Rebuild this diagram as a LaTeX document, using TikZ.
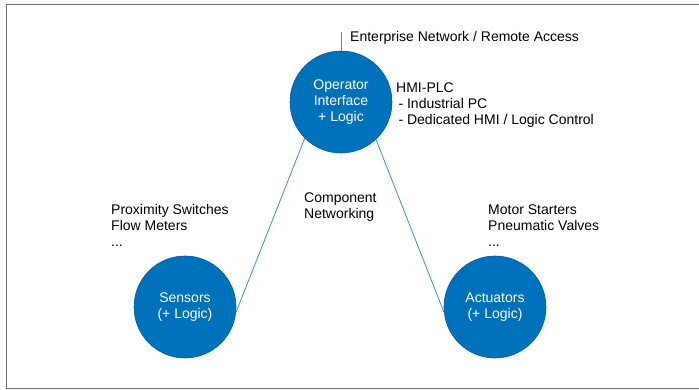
\documentclass[tikz,border=0pt]{standalone}
\usepackage{fontspec}
\setmainfont{Liberation Sans}
\usepackage{tikz}

\definecolor{unitblue}{RGB}{0,114,187}
\definecolor{unitedge}{RGB}{0,92,160}
\definecolor{linkblue}{RGB}{52,146,214}

\begin{document}
\begin{tikzpicture}[x=1pt, y=-1pt,
	unit/.style={circle, draw=unitedge, line width=0.6pt, fill=unitblue, text=white, minimum size=102pt, inner sep=0pt, align=center, font=\fontsize{14}{16}\selectfont},
	link/.style={draw=linkblue, line width=0.8pt},
	note/.style={anchor=north west, inner sep=0pt, align=left, font=\fontsize{14}{16}\selectfont}]
	\useasboundingbox (0,0) rectangle (699,390);

	% Frame
	\draw[color=gray!85!black, line width=1pt] (699,4.5) -- (6.5,4.5) -- (6.5,388) -- (699,388);

	% Units
	\node[unit] (op) at (341,102) {Operator\\Interface\\+ Logic};
	\node[unit] (sens) at (185,307) {Sensors\\(+ Logic)};
	\node[unit] (act) at (495,307) {Actuators\\(+ Logic)};
	\coordinate (net) at (341,32);

	% Connections
	\draw[link] (op.north) -- (net);
	\draw[link] (op.225) -- (sens.354);
	\draw[link] (op.313) -- (act.186);

	% Annotations
	\node[note] (ent) at (350,31.5) {Enterprise Network / Remote Access};
	\node[note] (hmi) at (396,82.5) {HMI-PLC\\\,- Industrial PC\\\,- Dedicated HMI / Logic Control};
	\node[note] (comp) at (304,192.5) {Component\\Networking};
	\node[note] (sensx) at (111,204.5) {Proximity Switches\\Flow Meters\\...};
	\node[note] (actx) at (488,204.5) {Motor Starters\\Pneumatic Valves\\...};
\end{tikzpicture}
\end{document}
